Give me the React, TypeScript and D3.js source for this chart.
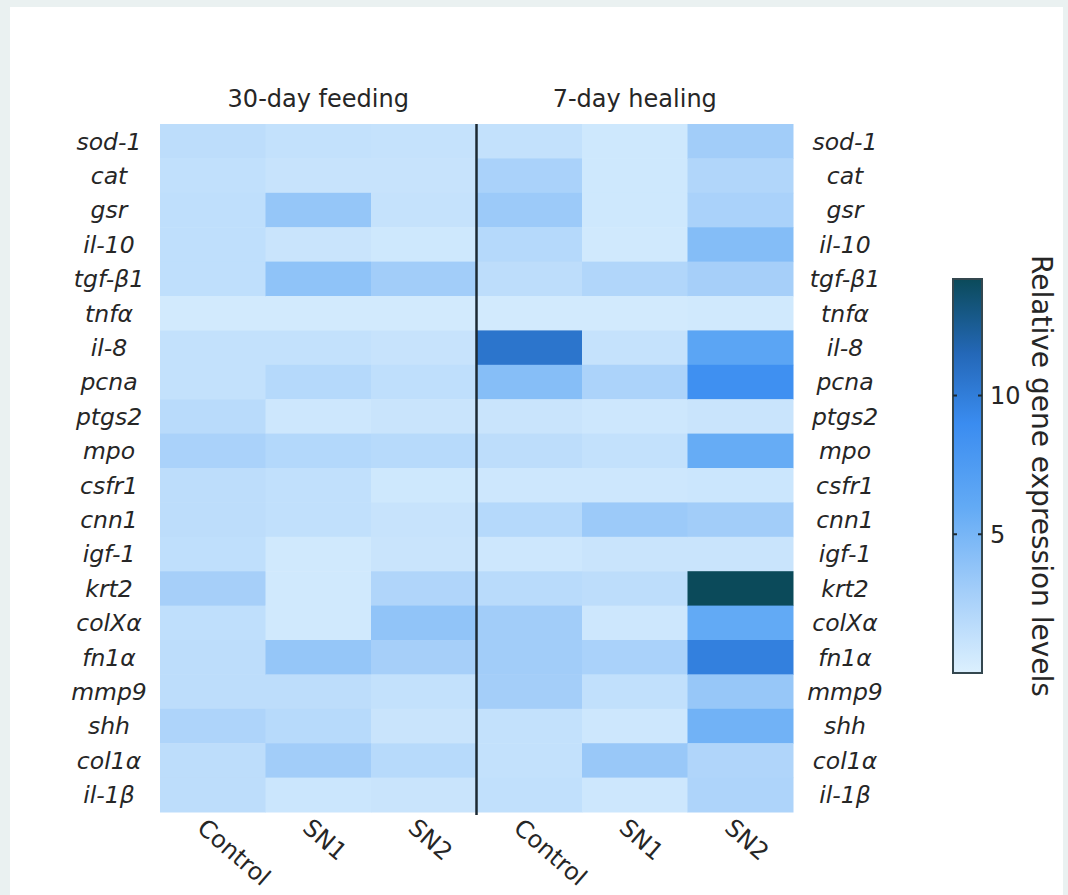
import React, { useEffect, useRef } from 'react';
import * as d3 from 'd3';

// genes, top to bottom
const genes = ['sod-1', 'cat', 'gsr', 'il-10', 'tgf-β1', 'tnfα', 'il-8', 'pcna', 'ptgs2', 'mpo',
  'csfr1', 'cnn1', 'igf-1', 'krt2', 'colXα', 'fn1α', 'mmp9', 'shh', 'col1α', 'il-1β'];

const groups = ['30-day feeding', '7-day healing'];
const treatments = ['Control', 'SN1', 'SN2'];

// relative expression per treatment, one value per gene (same order as genes)
const feedControl = [1.6, 1.4, 1.5, 1.5, 1.5, 0.5, 1.3, 1.3, 1.8, 2.6, 1.6, 1.6, 1.5, 2.8, 1.5, 1.6, 1.6, 2.4, 1.6, 1.6];
const feedSN1 = [1.3, 1.1, 3.6, 1.0, 3.9, 0.5, 1.3, 2.0, 0.8, 2.1, 1.4, 1.4, 0.6, 0.6, 0.6, 3.6, 1.6, 1.9, 3.0, 0.9];
const feedSN2 = [1.2, 1.1, 1.2, 0.7, 3.0, 0.5, 1.1, 1.5, 1.0, 1.9, 0.7, 1.1, 1.0, 2.3, 3.8, 2.8, 1.3, 1.0, 1.9, 1.0];
const healControl = [1.3, 2.6, 3.3, 2.0, 1.6, 0.5, 10.6, 4.3, 1.0, 1.6, 0.8, 2.0, 0.8, 1.8, 3.0, 3.0, 2.9, 1.3, 1.3, 1.4];
const healSN1 = [0.7, 0.7, 0.7, 0.6, 2.2, 0.5, 1.2, 2.5, 0.8, 1.3, 0.8, 3.3, 1.0, 1.6, 0.8, 2.6, 1.4, 0.8, 3.4, 0.8];
const healSN2 = [3.0, 2.2, 2.6, 4.4, 2.8, 0.6, 6.5, 8.6, 1.0, 5.8, 0.9, 3.0, 1.0, 14.2, 6.0, 9.8, 3.5, 5.3, 2.3, 2.4];

const seriesValues = [feedControl, feedSN1, feedSN2, healControl, healSN1, healSN2];

const cbarTicks = [5, 10];
const cbarLabel = 'Relative gene expression levels';

const FONT = '"DejaVu Sans", sans-serif';
const INK = '#262626';

function drawHeatmap(node: SVGSVGElement) {
  const svg = d3.select(node);
  svg.selectAll('*').remove();

  // page frame
  svg.append('rect').attr('width', 1068).attr('height', 895).attr('fill', '#eaf1f1');
  svg.append('rect').attr('x', 10).attr('y', 7).attr('width', 1053).attr('height', 888).attr('fill', '#ffffff');

  const colKeys = d3.range(seriesValues.length).map(String);
  const x = d3.scaleBand().domain(colKeys).range([160, 793]);
  const y = d3.scaleBand().domain(genes).range([124, 812]);

  const vmax = d3.max(seriesValues, (s) => d3.max(s)) as number;
  const color = d3.scaleLinear<string>()
    .domain([0, 3, 6, 9, 11.5, vmax])
    .range(['#dcf0fe', '#a2cdf9', '#62aaf5', '#3a8cf0', '#2468b8', '#0b4a5a'])
    .clamp(true);

  const cells: { col: string; gene: string; v: number }[] = [];
  seriesValues.forEach((s, ci) => {
    s.forEach((v, gi) => cells.push({ col: String(ci), gene: genes[gi], v }));
  });

  svg.append('g')
    .selectAll('rect')
    .data(cells)
    .join('rect')
    .attr('x', (d) => x(d.col)!)
    .attr('y', (d) => y(d.gene)!)
    .attr('width', x.bandwidth() + 0.5)
    .attr('height', y.bandwidth() + 0.5)
    .attr('fill', (d) => color(d.v));

  // separator between the two groups
  const sepX = x('3')!;
  svg.append('line')
    .attr('x1', sepX).attr('x2', sepX)
    .attr('y1', 124).attr('y2', 815)
    .attr('stroke', '#1c2a33')
    .attr('stroke-width', 2.5);

  // group titles
  groups.forEach((g, i) => {
    const cx = x(String(i * 3 + 1))! + x.bandwidth() / 2;
    svg.append('text')
      .attr('x', cx).attr('y', 107)
      .attr('text-anchor', 'middle')
      .attr('font-family', FONT)
      .attr('font-size', 24)
      .attr('fill', INK)
      .text(g);
  });

  // gene labels, both sides
  [109, 845].forEach((lx) => {
    svg.append('g')
      .selectAll('text')
      .data(genes)
      .join('text')
      .attr('x', lx)
      .attr('y', (d) => y(d)! + y.bandwidth() / 2)
      .attr('dy', '0.36em')
      .attr('text-anchor', 'middle')
      .attr('font-family', FONT)
      .attr('font-style', 'italic')
      .attr('font-size', 23.5)
      .attr('fill', INK)
      .text((d) => d);
  });

  // rotated treatment labels
  svg.append('g')
    .selectAll('text')
    .data(colKeys)
    .join('text')
    .attr('transform', (d) => {
      const tx = x(d)! + x.bandwidth() / 2 - 17;
      return 'translate(' + tx + ',830) rotate(41)';
    })
    .attr('font-family', FONT)
    .attr('font-size', 24)
    .attr('fill', INK)
    .text((d) => treatments[+d % 3]);

  // colorbar
  const cbX = 953, cbW = 29, cbTop = 279, cbBot = 673;
  const cy = d3.scaleLinear().domain([0, vmax]).range([cbBot, cbTop]);

  const grad = svg.append('defs')
    .append('linearGradient')
    .attr('id', 'cbar-grad')
    .attr('x1', '0%').attr('y1', '100%')
    .attr('x2', '0%').attr('y2', '0%');
  color.domain().forEach((v) => {
    grad.append('stop')
      .attr('offset', (v / vmax) * 100 + '%')
      .attr('stop-color', color(v));
  });

  svg.append('rect')
    .attr('x', cbX).attr('y', cbTop)
    .attr('width', cbW).attr('height', cbBot - cbTop)
    .attr('fill', 'url(#cbar-grad)')
    .attr('stroke', '#34474f')
    .attr('stroke-width', 2);

  const tk = svg.append('g');
  cbarTicks.forEach((t) => {
    tk.append('line').attr('x1', cbX).attr('x2', cbX + 4).attr('y1', cy(t)).attr('y2', cy(t))
      .attr('stroke', '#1c2a33').attr('stroke-width', 2);
    tk.append('line').attr('x1', cbX + cbW - 4).attr('x2', cbX + cbW).attr('y1', cy(t)).attr('y2', cy(t))
      .attr('stroke', '#1c2a33').attr('stroke-width', 2);
    tk.append('text')
      .attr('x', cbX + cbW + 8)
      .attr('y', cy(t))
      .attr('dy', '0.36em')
      .attr('font-family', FONT)
      .attr('font-size', 24)
      .attr('fill', INK)
      .text(String(t));
  });

  svg.append('text')
    .attr('transform', 'translate(1032,' + (cbTop + cbBot) / 2 + ') rotate(90)')
    .attr('text-anchor', 'middle')
    .attr('font-family', FONT)
    .attr('font-size', 28)
    .attr('fill', INK)
    .text(cbarLabel);
}

export default function App() {
  const ref = useRef<SVGSVGElement>(null);

  useEffect(() => {
    if (ref.current) drawHeatmap(ref.current);
  }, []);

  return (
    <svg
      ref={ref}
      width={1068}
      height={895}
      style={{ position: 'absolute', left: 0, top: 0, display: 'block' }}
    />
  );
}
